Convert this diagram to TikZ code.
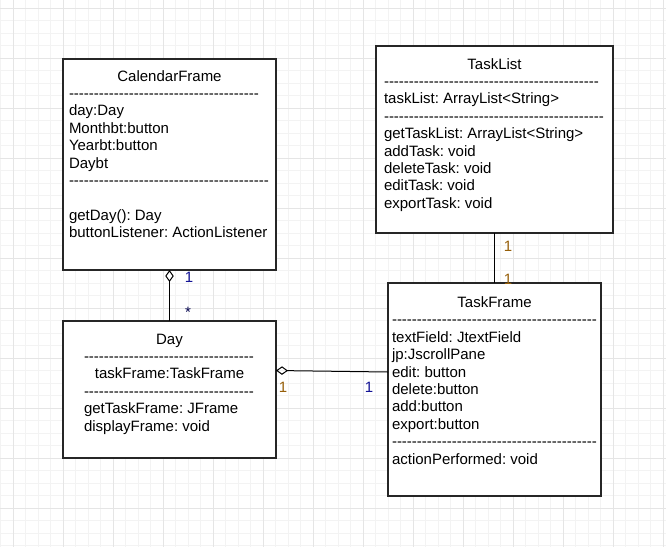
\documentclass[tikz,border=0pt]{standalone}
\usepackage{fontspec}
\setmainfont{Liberation Sans}
\usetikzlibrary{arrows.meta}
\frenchspacing
\newcommand\hyph[1]{\foreach\hyi in {1,...,#1}{-}}
\definecolor{minorgrid}{RGB}{243,243,243}
\definecolor{majorgrid}{RGB}{229,229,229}
\definecolor{multblue}{RGB}{20,20,150}
\definecolor{multbrown}{RGB}{150,95,10}
\tikzset{
  umlbox/.style={draw=black!85, line width=1.2pt, fill=white, inner sep=0, outer sep=0},
  txt/.style={inner sep=0, outer sep=0, font=\frenchspacing\fontsize{15}{17.4}\selectfont, text=black},
  conn/.style={draw=black, line width=1pt},
  mult/.style={inner sep=0, outer sep=0, font=\fontsize{15}{17}\selectfont},
  aggr/.style={{Diamond[open,length=12pt,width=8.5pt,line width=1pt]}-}
}
\begin{document}
\begin{tikzpicture}[x=1pt,y=-1pt]
\useasboundingbox (0,0) rectangle (666,547);
\fill[white] (0,0) rectangle (666,547);
% grid
\foreach \gx in {0.5,13,...,666} \draw[minorgrid,line width=0.8pt] (\gx,0) -- (\gx,547);
\foreach \gy in {8,20.5,...,547} \draw[minorgrid,line width=0.8pt] (0,\gy) -- (666,\gy);
\foreach \gx in {13,63,...,666} \draw[majorgrid,line width=0.8pt] (\gx,0) -- (\gx,547);
\foreach \gy in {8,58,...,547} \draw[majorgrid,line width=0.8pt] (0,\gy) -- (666,\gy);

% boxes
\node[umlbox, minimum width=213pt, minimum height=211pt] (cf) at (169.5,164.5) {};
\node[umlbox, minimum width=237pt, minimum height=187pt] (tl) at (494.5,139.5) {};
\node[umlbox, minimum width=213pt, minimum height=137pt] (day) at (169.5,389.5) {};
\node[umlbox, minimum width=213pt, minimum height=213pt] (tf) at (494.5,389.5) {};

% CalendarFrame
\node[txt,anchor=base] (cf-t) at (169.5,81) {CalendarFrame};
\node[txt,anchor=base west] (cf-1) at (69,98.4) {\hyph{38}};
\node[txt,anchor=base west] (cf-2) at (69,115.8) {day:Day};
\node[txt,anchor=base west] (cf-3) at (69,133.2) {Monthbt:button};
\node[txt,anchor=base west] (cf-4) at (69,150.6) {Yearbt:button};
\node[txt,anchor=base west] (cf-5) at (69,168) {Daybt};
\node[txt,anchor=base west] (cf-6) at (69,185.4) {\hyph{40}};
\node[txt,anchor=base west] (cf-7) at (69,220.2) {getDay(): Day};
\node[txt,anchor=base west] (cf-8) at (69,237.6) {buttonListener: ActionListener};

% TaskList
\node[txt,anchor=base] (tl-t) at (494.5,69) {TaskList};
\node[txt,anchor=base west] (tl-1) at (384,86.4) {\hyph{43}};
\node[txt,anchor=base west] (tl-2) at (384,103.8) {taskList: ArrayList<String>};
\node[txt,anchor=base west] (tl-3) at (384,121.2) {\hyph{44}};
\node[txt,anchor=base west] (tl-4) at (384,138.6) {getTaskList: ArrayList<String>};
\node[txt,anchor=base west] (tl-5) at (384,156) {addTask: void};
\node[txt,anchor=base west] (tl-6) at (384,173.4) {deleteTask: void};
\node[txt,anchor=base west] (tl-7) at (384,190.8) {editTask: void};
\node[txt,anchor=base west] (tl-8) at (384,208.2) {exportTask: void};

% Day
\node[txt,anchor=base] (day-t) at (169.5,344) {Day};
\node[txt,anchor=base west] (day-1) at (84,361.4) {\hyph{34}};
\node[txt,anchor=base] (day-2) at (169.5,378.8) {taskFrame:TaskFrame};
\node[txt,anchor=base west] (day-3) at (84,396.2) {\hyph{34}};
\node[txt,anchor=base west] (day-4) at (84,413.6) {getTaskFrame: JFrame};
\node[txt,anchor=base west] (day-5) at (84,431) {displayFrame: void};

% TaskFrame
\node[txt,anchor=base] (tf-t) at (494.5,307.5) {TaskFrame};
\node[txt,anchor=base west] (tf-1) at (392,324.9) {\hyph{41}};
\node[txt,anchor=base west] (tf-2) at (392,342.3) {textField: JtextField};
\node[txt,anchor=base west] (tf-3) at (392,359.7) {jp:JscrollPane};
\node[txt,anchor=base west] (tf-4) at (392,377.1) {edit: button};
\node[txt,anchor=base west] (tf-5) at (392,394.5) {delete:button};
\node[txt,anchor=base west] (tf-6) at (392,411.9) {add:button};
\node[txt,anchor=base west] (tf-7) at (392,429.3) {export:button};
\node[txt,anchor=base west] (tf-8) at (392,446.7) {\hyph{41}};
\node[txt,anchor=base west] (tf-9) at (392,464.1) {actionPerformed: void};

% connectors
\draw[conn,aggr] (cf.south) -- (day.north);
\draw[conn,aggr] ([yshift=19pt]day.east) -- ([yshift=17.5pt]tf.west);
\draw[conn] (tl.south) -- (tf.north);

% multiplicities
\node[mult,text=multblue] (m1) at (189,277) {1};
\node[mult,text=black!70!blue] (m2) at (188,312) {*};
\node[mult,text=multbrown] (m3) at (283,387) {1};
\node[mult,text=multblue] (m4) at (369,387) {1};
\node[mult,text=multbrown] (m5) at (508,246) {1};
\node[mult,text=multbrown] (m6) at (508,279) {1};
\end{tikzpicture}
\end{document}
